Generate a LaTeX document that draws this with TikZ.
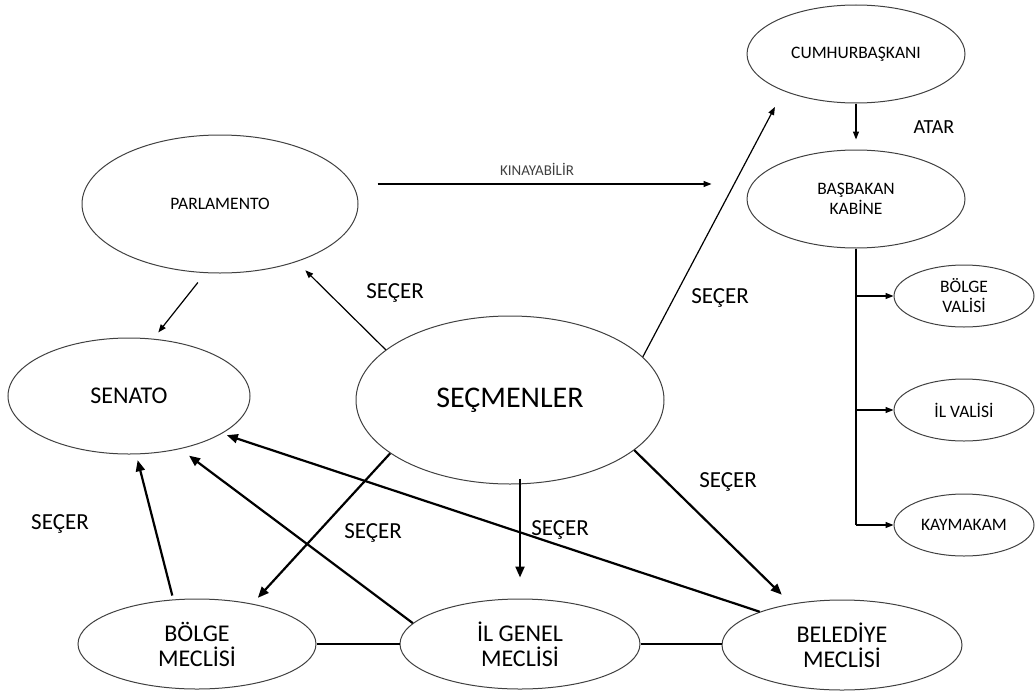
\documentclass[tikz,border=0pt]{standalone}
\usepackage{fontspec}
\setmainfont{Carlito}
\usetikzlibrary{shapes.geometric,arrows.meta}
\begin{document}
\begin{tikzpicture}[x=1pt,y=-1pt,
    oval/.style={ellipse, draw=black!75, line width=1pt, inner sep=0pt, align=center},
    bigtext/.style={font=\fontsize{24}{25}\selectfont},
    smalltext/.style={font=\fontsize{17.5}{20}\selectfont},
    lbl/.style={font=\fontsize{23}{25}\selectfont},
    thinarrow/.style={line width=1.2pt, -{Triangle[length=8pt,width=6pt]}},
    boldarrow/.style={line width=2.2pt, -{Triangle[length=11pt,width=9pt]}}]
    \useasboundingbox (0,0) rectangle (1035,693);

    \node[oval, smalltext, minimum width=218pt, minimum height=98pt] (cumhur) at (856,54) {CUMHURBAŞKANI};
    \node[oval, smalltext, minimum width=218pt, minimum height=98pt] (basbakan) at (856,199) {BAŞBAKAN\\KABİNE};
    \node[oval, smalltext, minimum width=276pt, minimum height=138pt] (parlamento) at (220,204) {PARLAMENTO};
    \node[oval, font=\fontsize{30}{32}\selectfont, minimum width=308pt, minimum height=168pt] (secmen) at (510,400) {SEÇMENLER};
    \node[oval, bigtext, minimum width=242pt, minimum height=116pt] (senato) at (129,396) {SENATO};
    \node[oval, bigtext, minimum width=238pt, minimum height=90pt] (bolge) at (197,644) {BÖLGE\\MECLİSİ};
    \node[oval, bigtext, minimum width=240pt, minimum height=90pt] (ilgenel) at (520,644) {İL GENEL\\MECLİSİ};
    \node[oval, bigtext, minimum width=240pt, minimum height=90pt] (belediye) at (842,645) {BELEDİYE\\MECLİSİ};
    \node[oval, smalltext, minimum width=140pt, minimum height=62pt] (bvali) at (964,296) {BÖLGE\\VALİSİ};
    \node[oval, smalltext, minimum width=140pt, minimum height=62pt] (ilvali) at (964,410) {İL VALİSİ};
    \node[oval, smalltext, minimum width=140pt, minimum height=62pt] (kaymakam) at (964,525) {KAYMAKAM};

    \draw[thinarrow, shorten >=18pt] (secmen.18) -- (cumhur.207.3);
    \draw[thinarrow, shorten >=10pt] (cumhur.south) -- (basbakan.north);
    \path ([yshift=20pt]parlamento.east) coordinate (kinstart);
    \draw[thinarrow, shorten <=19pt, shorten >=35pt] (kinstart) -- (kinstart -| basbakan.west)
        node[pos=0.46, above=5pt, font=\fontsize{15}{17}\selectfont, text=black!75] (kinlbl) {KINAYABİLİR};
    \draw[thinarrow, shorten >=12pt] (secmen.158.2) -- (parlamento.323.1);
    \draw[thinarrow, shorten <=12pt, shorten >=8pt] (parlamento.258.1) -- (senato.67.9);

    \draw[boldarrow, shorten >=8pt] (secmen.204.9) -- (bolge.36.4);
    \draw[boldarrow, shorten <=-6pt, shorten >=21pt] (ilgenel.north |- secmen.south) -- (ilgenel.north);
    \draw[boldarrow, shorten >=13pt] (secmen.338.5) -- (belediye.141.8);
    \draw[boldarrow, shorten <=4pt, shorten >=6pt] (bolge.118.6) -- (senato.277.4);
    \draw[boldarrow, shorten >=11pt] (ilgenel.169.4) -- (senato.314.9);
    \draw[boldarrow, shorten >=5pt] (belediye.158.2) -- (senato.338.1);
    \draw[line width=2.2pt] (bolge.east) -- (ilgenel.west);
    \draw[line width=2.2pt] (ilgenel.east) -- (ilgenel.east -| belediye.west);

    \draw[line width=1.4pt] (basbakan.south) -- (basbakan.south |- kaymakam.west);
    \foreach \n in {bvali,ilvali,kaymakam}
        \draw[thinarrow] (basbakan.south |- \n.west) -- (\n.west);

    \node[lbl] (secer1) at (395,293) {SEÇER};
    \node[lbl] (secer2) at (720,298) {SEÇER};
    \node[lbl] (secer3) at (60,524) {SEÇER};
    \node[lbl] (secer4) at (373,533) {SEÇER};
    \node[lbl] (secer5) at (560,530) {SEÇER};
    \node[lbl] (secer6) at (728,482) {SEÇER};
    \node[font=\fontsize{20}{22}\selectfont] (atar) at (934,127) {ATAR};
\end{tikzpicture}
\end{document}
